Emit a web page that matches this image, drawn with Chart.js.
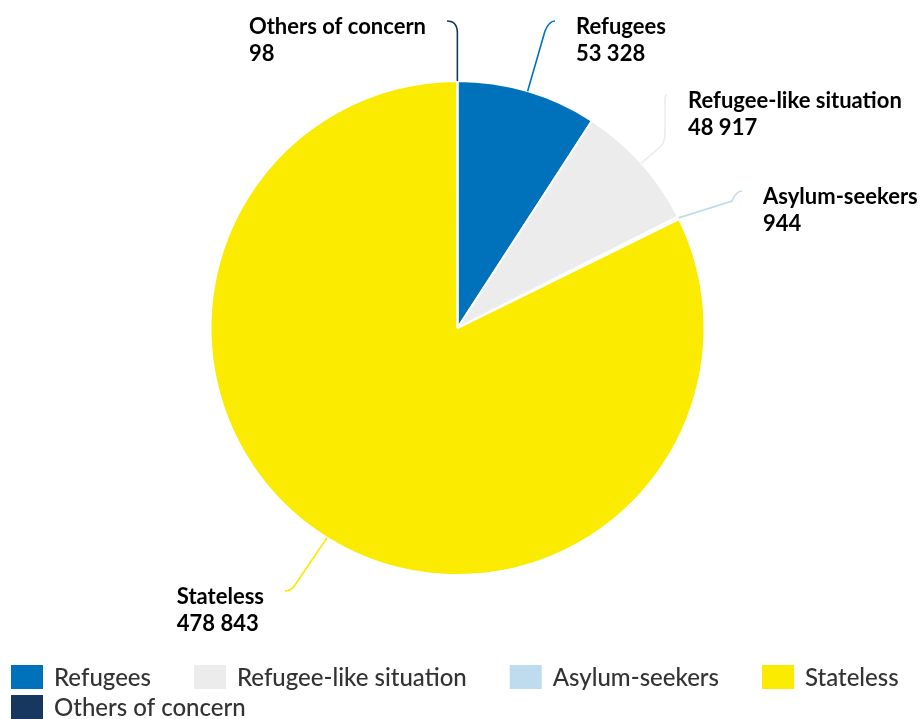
<!DOCTYPE html>
<html>
<head>
<meta charset="utf-8">
<script src="https://cdn.jsdelivr.net/npm/chart.js@4.4.1/dist/chart.umd.min.js"></script>
<style>
    html, body { margin: 0; padding: 0; background: #fff; }
    #wrap { width: 921px; height: 719px; position: relative; }
</style>
</head>
<body>
<div id="wrap"><canvas id="popChart" width="921" height="719"></canvas></div>
<script>
// Data
const categories = ["Refugees", "Refugee-like situation", "Asylum-seekers", "Stateless", "Others of concern"];
const populations = [53328, 48917, 944, 478843, 98];
const sliceColors = ["#0072bc", "#ececec", "#bfdcee", "#faeb00", "#18375f"];

// Label placement: which side and where each connector ends (pixels)
const labelSide = ["right", "right", "right", "left", "left"];
const connectorEnds = [[555, 21], [667, 95], [742, 191], [285, 591], [447, 21]];

const FONT = "Lato, 'Open Sans', sans-serif";

function fmt(n) {
    return String(n).replace(/\B(?=(\d{3})+(?!\d))/g, " ");
}

// draws the connectors + two-line labels
const pieLabels = {
    id: "pieLabels",
    afterDatasetsDraw(chart) {
        const ctx = chart.ctx;
        const arcs = chart.getDatasetMeta(0).data;
        ctx.save();
        arcs.forEach((arc, i) => {
            const mid = (arc.startAngle + arc.endAngle) / 2;
            const r = arc.outerRadius;
            const sx = arc.x + Math.cos(mid) * r;
            const sy = arc.y + Math.sin(mid) * r;
            const [ex, ey] = connectorEnds[i];

            ctx.strokeStyle = sliceColors[i];
            ctx.lineWidth = 1.6;
            ctx.beginPath();
            ctx.moveTo(sx, sy);
            if (i === 1) {
                // goes out diagonally then up
                ctx.lineTo(ex - 7, sy - 16);
                ctx.quadraticCurveTo(ex - 2, sy - 20, ex - 2, sy - 30);
                ctx.lineTo(ex - 2, ey + 5);
                ctx.quadraticCurveTo(ex - 2, ey, ex, ey);
            } else if (i === 4) {
                ctx.lineTo(sx, ey + 12);
                ctx.quadraticCurveTo(sx, ey, ex, ey);
            } else {
                const dir = ex > sx ? 1 : -1;
                const kx = ex - dir * 10;
                const ky = ey + (sy > ey ? 10 : -6);
                ctx.lineTo(kx, ky);
                ctx.quadraticCurveTo(ex - dir * 6, ey, ex, ey);
            }
            ctx.stroke();

            ctx.font = "bold 22px " + FONT;
            ctx.fillStyle = "#000";
            ctx.textBaseline = "alphabetic";
            const lines = [categories[i], fmt(populations[i])];
            const w = Math.max(...lines.map(t => ctx.measureText(t).width));
            const tx = labelSide[i] === "right" ? ex + 21 : ex - 21 - w;
            lines.forEach((t, k) => {
                ctx.fillText(t, tx, ey + 13 + k * 27);
            });
        });
        ctx.restore();
    }
};

// legend drawn at the bottom, left aligned
const bottomLegend = {
    id: "bottomLegend",
    afterDraw(chart) {
        const ctx = chart.ctx;
        ctx.save();
        ctx.font = "500 24px " + FONT;
        ctx.textBaseline = "alphabetic";
        let x = 11, y = 665;
        categories.forEach((name, i) => {
            const tw = ctx.measureText(name).width;
            if (x + 43 + tw > chart.width) {
                x = 11;
                y += 30;
            }
            ctx.fillStyle = sliceColors[i];
            ctx.fillRect(x, y, 32, 24);
            ctx.fillStyle = "#333333";
            ctx.fillText(name, x + 43, y + 21);
            x += 43 + tw + 43;
        });
        ctx.restore();
    }
};

new Chart(document.getElementById("popChart"), {
    type: "pie",
    data: {
        labels: categories,
        datasets: [{
            data: populations,
            backgroundColor: sliceColors,
            borderColor: "#ffffff",
            borderWidth: 2,
            hoverOffset: 0
        }]
    },
    options: {
        responsive: false,
        animation: false,
        radius: 247,
        layout: {
            padding: { left: 211, right: 217, top: 82, bottom: 145 }
        },
        plugins: {
            legend: { display: false },
            tooltip: { enabled: false }
        }
    },
    plugins: [pieLabels, bottomLegend]
});
</script>
</body>
</html>
